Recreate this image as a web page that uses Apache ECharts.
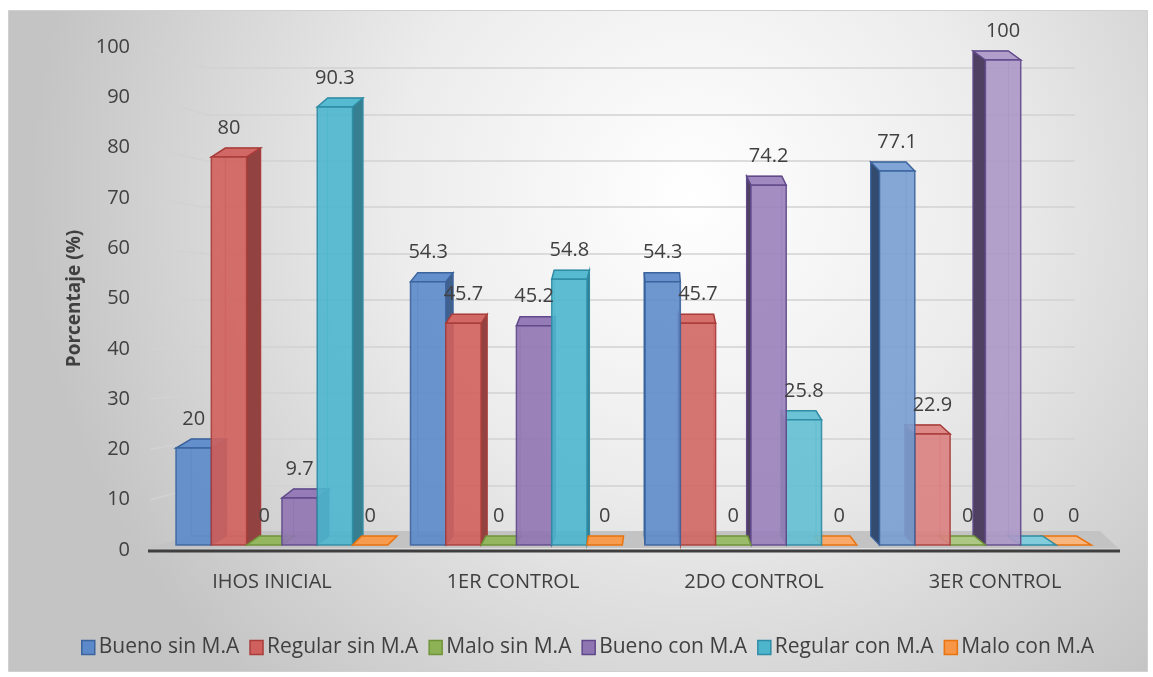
<!DOCTYPE html>
<html>
<head>
<meta charset="utf-8">
<script src="https://cdn.jsdelivr.net/npm/echarts@6/dist/echarts.min.js"></script>
<style>
  html, body { margin: 0; padding: 0; background: #fff; }
  #main { width: 1153px; height: 677px; }
</style>
</head>
<body>
<div id="main"></div>
<script>
// datos
var categories = ['IHOS INICIAL', '1ER CONTROL', '2DO CONTROL', '3ER CONTROL'];
var seriesNames = ['Bueno sin M.A', 'Regular sin M.A', 'Malo sin M.A', 'Bueno con M.A', 'Regular con M.A', 'Malo con M.A'];
var buenoSin = [20, 54.3, 54.3, 77.1];
var regularSin = [80, 45.7, 45.7, 22.9];
var maloSin = [0, 0, 0, 0];
var buenoCon = [9.7, 45.2, 74.2, 100];
var regularCon = [90.3, 54.8, 25.8, 0];
var maloCon = [0, 0, 0, 0];
var yMin = 0, yMax = 100, yStep = 10;

var values = [buenoSin, regularSin, maloSin, buenoCon, regularCon, maloCon];
var colors = ['#5b89c9', '#d0605d', '#8db255', '#9075b3', '#4db6cd', '#f79646'];
var strokes = ['#3c649c', '#a83d3a', '#6f9438', '#60498a', '#2f8ca4', '#e8730f'];

var VX = 640;      // punto de fuga (perspectiva)

function mix(c, t, k) {
    var a = echarts.color.parse(c), b = echarts.color.parse(t);
    var r = [0, 1, 2].map(function (i) { return Math.round(a[i] + (b[i] - a[i]) * k); });
    return 'rgb(' + r.join(',') + ')';
}

function makeRender(slot) {
    return function (params, api) {
        var ci = api.value(0), v = api.value(1);
        var base = api.coord([ci, 0]);
        var top = api.coord([ci, v]);
        var catW = api.size([1, 0])[0];
        var bw = catW * 0.1465;
        var cx = base[0] + (VX - base[0]) * 0.027;
        var x0 = cx + (slot - 3) * bw, x1 = x0 + bw;
        var bx = x0 + bw / 2;
        var sx = (VX - bx) * 0.034, dy = 9;
        var yb = base[1], yt = top[1];
        var light = Math.max(0, Math.min(0.25, (bx - VX) / 1400));
        var front = mix(colors[slot], '#ffffff', light);
        var side = mix(colors[slot], '#000000', sx > 0 ? 0.3 : 0.45);
        var topC = mix(colors[slot], '#ffffff', light + 0.05);
        var st = strokes[slot];
        var zb = Math.round(1000 - Math.abs(bx - VX)) * 4;
        var kids = [];
        if (yb - yt > 0.5) {
            kids.push({ type: 'rect', z2: zb,
                shape: { x: x0 + sx, y: yt - dy, width: bw, height: yb - yt },
                style: { fill: 'none', stroke: st, lineWidth: 1, opacity: 0.6 } });
            var sxE = sx > 0 ? x1 : x0;
            kids.push({ type: 'polygon', z2: zb + 1,
                shape: { points: [[sxE, yt], [sxE + sx, yt - dy], [sxE + sx, yb - dy], [sxE, yb]] },
                style: { fill: side, stroke: st, lineWidth: 1.2 } });
        }
        kids.push({ type: 'polygon', z2: zb + 2,
            shape: { points: [[x0, yt], [x1, yt], [x1 + sx, yt - dy], [x0 + sx, yt - dy]] },
            style: { fill: topC, stroke: st, lineWidth: 1.5 } });
        if (yb - yt > 0.5) {
            kids.push({ type: 'rect', z2: zb + 3,
                shape: { x: x0, y: yt, width: bw, height: yb - yt },
                style: { fill: front, stroke: st, lineWidth: 1.5, opacity: 0.9 } });
        }
        kids.push({ type: 'text', z2: 9000,
            style: { x: bx, y: yt - 29, text: String(v), align: 'center', verticalAlign: 'middle',
                fill: '#404040', fontSize: 20, fontFamily: 'Open Sans' } });
        return { type: 'group', children: kids };
    };
}

var chart = echarts.init(document.getElementById('main'));

var series = seriesNames.map(function (name, i) {
    return {
        name: name,
        type: 'custom',
        xAxisIndex: 0,
        yAxisIndex: 0,
        renderItem: makeRender(i),
        itemStyle: { color: colors[i], borderColor: strokes[i] },
        data: values[i].map(function (v, c) { return [c, v]; })
    };
});

var option = {
    animation: false,
    textStyle: { fontFamily: 'Open Sans' },
    grid: [
        { left: 151.5, right: 37.5, top: 60, bottom: 132 },
        { left: 150, right: 35, top: 47, bottom: 127 },
        { left: 205, right: 78, top: 68, bottom: 145 }
    ],
    xAxis: [
        { gridIndex: 0, type: 'category', data: categories,
          axisLine: { show: false }, axisTick: { show: false },
          axisLabel: { margin: 27, fontSize: 20, color: '#404040' } },
        { gridIndex: 1, type: 'category', data: categories, show: false },
        { gridIndex: 2, type: 'category', data: categories, show: false }
    ],
    yAxis: [
        { gridIndex: 0, type: 'value', min: yMin, max: yMax, interval: yStep, show: false },
        { gridIndex: 1, type: 'value', min: yMin, max: yMax, interval: yStep,
          name: 'Porcentaje (%)', nameLocation: 'middle', nameGap: 66,
          nameTextStyle: { fontSize: 19, fontWeight: 'bold', color: '#404040' },
          axisLine: { show: false }, axisTick: { show: false }, splitLine: { show: false },
          axisLabel: { margin: 20, fontSize: 20, color: '#404040' } },
        { gridIndex: 2, type: 'value', min: yMin, max: yMax, interval: yStep,
          axisLine: { show: false }, axisTick: { show: false }, axisLabel: { show: false },
          splitLine: { lineStyle: { color: '#d2d2d2', width: 1.5 } } }
    ],
    legend: {
        top: 632, left: 76,
        icon: 'rect', itemWidth: 13, itemHeight: 14, itemGap: 10,
        textStyle: { fontSize: 21, color: '#404040', padding: [0, 0, 0, -1] },
        data: seriesNames.map(function (n, i) {
            return { name: n, itemStyle: { color: colors[i], borderColor: strokes[i], borderWidth: 1.5 } };
        })
    },
    series: series
};
chart.setOption(option);

// paredes y piso (decoración del 3D)
var ticks = [];
for (var t = yMin; t <= yMax; t += yStep) ticks.push(t);
var yF0 = chart.convertToPixel({ yAxisIndex: 1 }, 0);
var yB0 = chart.convertToPixel({ yAxisIndex: 2 }, 0);
var wallLines = ticks.filter(function (t) { return t > 0; }).map(function (t) {
    return { type: 'line', z: 0,
        shape: { x1: 150, y1: chart.convertToPixel({ yAxisIndex: 1 }, t),
                 x2: 205, y2: chart.convertToPixel({ yAxisIndex: 2 }, t) },
        style: { stroke: '#d2d2d2', lineWidth: 1.5 } };
});

chart.setOption({
    graphic: [
        { type: 'rect', z: -10, shape: { x: 8.5, y: 10.5, width: 1139, height: 661 },
          style: { stroke: '#d0d0d0', lineWidth: 1,
            fill: new echarts.graphic.RadialGradient(0.6, 0.28, 1.0, [
                { offset: 0, color: '#ffffff' },
                { offset: 0.45, color: '#ececec' },
                { offset: 1, color: '#c4c4c4' }]) } },
        { type: 'polygon', z: 1,
          shape: { points: [[150, yF0 - 2], [1118, yF0 - 2], [1100, yB0 - 1], [205, yB0 - 1]] },
          style: { fill: '#c3c3c3' } },
        { type: 'line', z: 1, shape: { x1: 148, y1: yF0 + 1, x2: 1120, y2: yF0 + 1 },
          style: { stroke: '#3f3f3f', lineWidth: 3 } }
    ].concat(wallLines)
});
</script>
</body>
</html>
